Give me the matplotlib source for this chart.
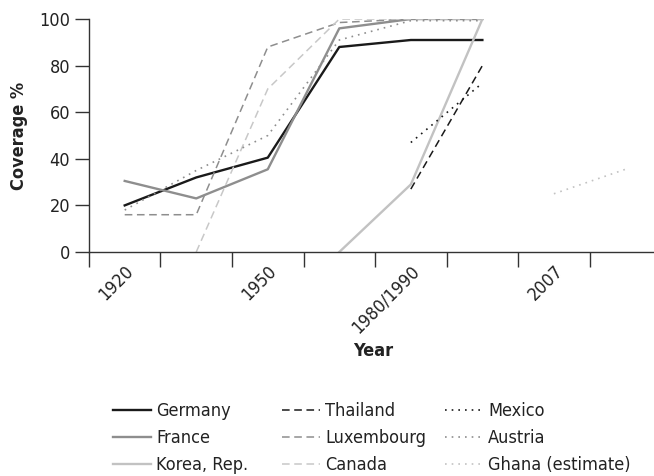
import matplotlib
matplotlib.use("Agg")
import matplotlib.pyplot as plt
import matplotlib.transforms as mtransforms
import numpy as np

plt.rcParams['font.family'] = ['DejaVu Sans']
plt.rcParams['font.stretch'] = 'condensed'

# category slots on the x axis (only every other one is labelled)
slots = list(range(8))
tick_labels = ['1920', '', '1950', '', '1980/1990', '', '2007', '']

germany    = [20, 32, 40.5, 88, 91, 91, None, None]
france     = [30.5, 23, 35.5, 96, 100, 100, None, None]
korea      = [None, None, None, 0, 29, 100, None, None]
thailand   = [None, None, None, None, 27, 80, None, None]
luxembourg = [16, 16, 88, 98.5, 100, 100, None, None]
canada     = [None, 0, 70, 100, 100, 100, None, None]
mexico     = [None, None, None, None, 47, 72.5, None, None]
austria    = [18, 35, 50, 91, 99.3, 99.3, None, None]
ghana      = [None, None, None, None, None, None, 25, 35.5]

dash = (0, (5, 3))
dot = (0, (1, 3))
series = [
    ('Germany', germany, '#1a1a1a', '-', 1.7),
    ('France', france, '#8e8e8e', '-', 1.7),
    ('Korea, Rep.', korea, '#c2c2c2', '-', 1.7),
    ('Thailand', thailand, '#1a1a1a', dash, 1.1),
    ('Luxembourg', luxembourg, '#8e8e8e', dash, 1.1),
    ('Canada', canada, '#c8c8c8', dash, 1.1),
    ('Mexico', mexico, '#1a1a1a', dot, 1.2),
    ('Austria', austria, '#8e8e8e', dot, 1.2),
    ('Ghana (estimate)', ghana, '#c2c2c2', dot, 1.2),
]

fig = plt.figure(figsize=(6.54, 4.76), dpi=100)
ax = fig.add_axes([0.136, 0.4706, 0.875, 0.4894])

handles = []
for name, vals, col, ls, lw in series:
    y = np.array([np.nan if v is None else v for v in vals], dtype=float)
    h, = ax.plot(slots, y, color=col, linestyle=ls, linewidth=lw, label=name)
    handles.append(h)

ax.set_xlim(-0.5, 7.43)
ax.set_ylim(0, 100)
ax.set_yticks(range(0, 101, 20))
ax.set_xticks(np.arange(-0.5, 8, 1))
ax.set_xticklabels([])
ax.set_xticks(slots, minor=True)
ax.set_xticklabels(tick_labels, minor=True, rotation=45, ha='right',
                   rotation_mode='anchor', fontsize=13, color='#222222')
shift = mtransforms.ScaledTranslation(9 / 72, 0, fig.dpi_scale_trans)
for lab in ax.get_xticklabels(minor=True):
    lab.set_transform(lab.get_transform() + shift)
ax.tick_params(axis='x', which='minor', length=0, pad=7)
ax.tick_params(axis='x', which='major', length=11, width=1, color='#333333', direction='out')
ax.tick_params(axis='y', length=10, width=1, color='#333333', labelsize=13, labelcolor='#222222')
for s in ['top', 'right']:
    ax.spines[s].set_visible(False)
for s in ['left', 'bottom']:
    ax.spines[s].set_color('#333333')
    ax.spines[s].set_linewidth(1)

ax.set_ylabel('Coverage %', fontsize=13, fontweight='bold', color='#222222', labelpad=8)
fig.text(0.570, 0.263, 'Year', fontsize=13, fontweight='bold', color='#222222', ha='center', va='center')

# three legend columns placed separately
col_x = [113 / 654, 282 / 654, 445 / 654]
for i in range(3):
    fig.legend(handles=handles[3 * i:3 * i + 3], loc='upper left',
               bbox_to_anchor=(col_x[i], 1 - 402 / 476), frameon=False,
               fontsize=13, handlelength=2.1, handletextpad=0.3,
               labelspacing=0.5, borderpad=0, borderaxespad=0, labelcolor='#222222')

fig.savefig('out.png', dpi=100)
